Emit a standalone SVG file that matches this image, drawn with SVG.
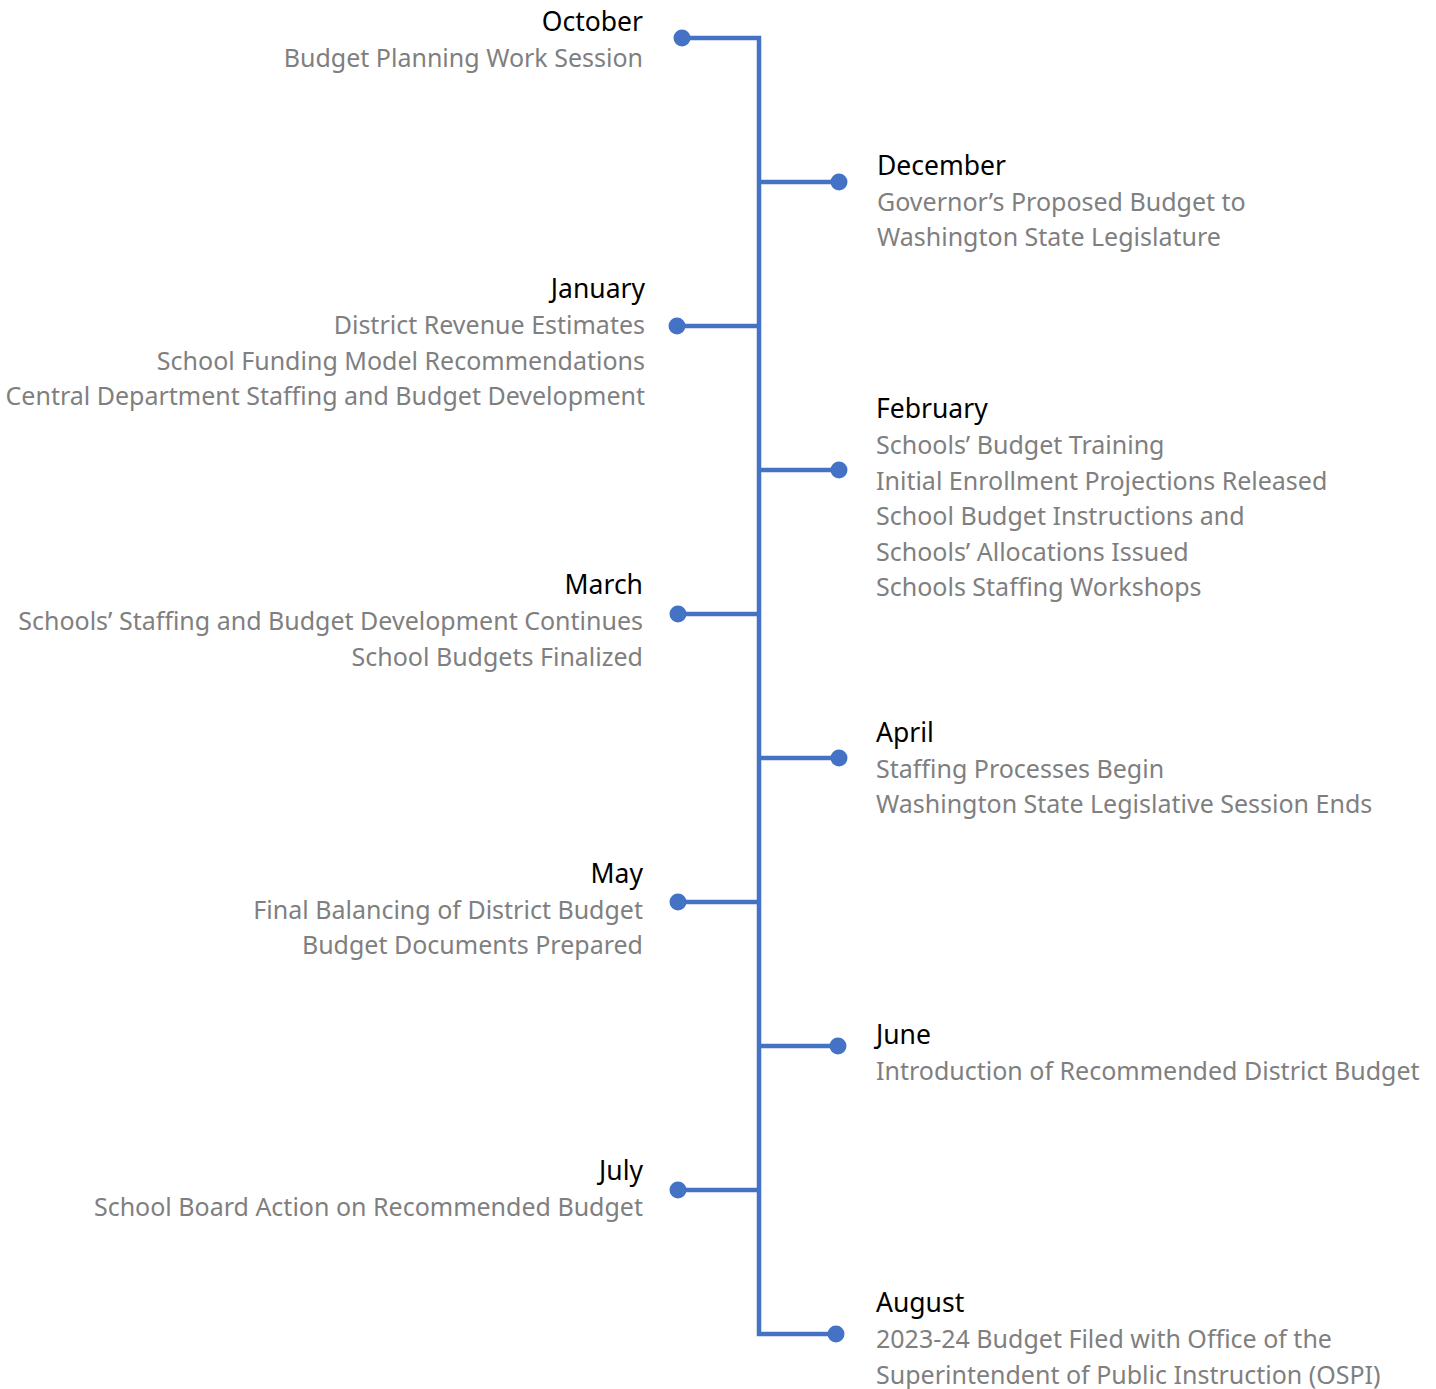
<svg xmlns="http://www.w3.org/2000/svg" width="1436" height="1389" viewBox="0 0 1436 1389">
<style>
.ln{stroke:#4472C4;stroke-width:4.5;fill:none}
.dot{fill:#4472C4}
.t{font-family:"Noto Sans","Open Sans",sans-serif;font-size:26.5px;fill:#000}
.d{font-family:"Noto Sans","Open Sans",sans-serif;font-size:25px;fill:#7F7F7F}
.l{text-anchor:end}
</style>
<rect width="1436" height="1389" fill="#fff"/>
<g id="connectors">
<polyline class="ln" points="682,38 759,38 759,1334 836,1334"/>
<line class="ln" x1="759" y1="182" x2="839" y2="182"/>
<line class="ln" x1="677" y1="326" x2="759" y2="326"/>
<line class="ln" x1="759" y1="470" x2="839" y2="470"/>
<line class="ln" x1="678" y1="614" x2="759" y2="614"/>
<line class="ln" x1="759" y1="758" x2="839" y2="758"/>
<line class="ln" x1="678" y1="902" x2="759" y2="902"/>
<line class="ln" x1="759" y1="1046" x2="838" y2="1046"/>
<line class="ln" x1="678" y1="1190" x2="759" y2="1190"/>
</g>
<g id="october">
<circle class="dot" cx="682" cy="38" r="8.5"/>
<text class="t l" x="643" y="31">October</text>
<text class="d l" x="643" y="67">Budget Planning Work Session</text>
</g>
<g id="december">
<circle class="dot" cx="839" cy="182" r="8.5"/>
<text class="t" x="877" y="175">December</text>
<text class="d" x="877" y="211">Governor’s Proposed Budget to</text>
<text class="d" x="877" y="246">Washington State Legislature</text>
</g>
<g id="january">
<circle class="dot" cx="677" cy="326" r="8.5"/>
<text class="t l" x="645" y="298">January</text>
<text class="d l" x="645" y="334">District Revenue Estimates</text>
<text class="d l" x="645" y="370">School Funding Model Recommendations</text>
<text class="d l" x="645" y="405">Central Department Staffing and Budget Development</text>
</g>
<g id="february">
<circle class="dot" cx="839" cy="470" r="8.5"/>
<text class="t" x="876" y="418">February</text>
<text class="d" x="876" y="454">Schools’ Budget Training</text>
<text class="d" x="876" y="490">Initial Enrollment Projections Released</text>
<text class="d" x="876" y="525">School Budget Instructions and</text>
<text class="d" x="876" y="561">Schools’ Allocations Issued</text>
<text class="d" x="876" y="596">Schools Staffing Workshops</text>
</g>
<g id="march">
<circle class="dot" cx="678" cy="614" r="8.5"/>
<text class="t l" x="643" y="594">March</text>
<text class="d l" x="643" y="630">Schools’ Staffing and Budget Development Continues</text>
<text class="d l" x="643" y="666">School Budgets Finalized</text>
</g>
<g id="april">
<circle class="dot" cx="839" cy="758" r="8.5"/>
<text class="t" x="876" y="742">April</text>
<text class="d" x="876" y="778">Staffing Processes Begin</text>
<text class="d" x="876" y="813">Washington State Legislative Session Ends</text>
</g>
<g id="may">
<circle class="dot" cx="678" cy="902" r="8.5"/>
<text class="t l" x="643" y="883">May</text>
<text class="d l" x="643" y="919">Final Balancing of District Budget</text>
<text class="d l" x="643" y="954">Budget Documents Prepared</text>
</g>
<g id="june">
<circle class="dot" cx="838" cy="1046" r="8.5"/>
<text class="t" x="876" y="1044">June</text>
<text class="d" x="876" y="1080">Introduction of Recommended District Budget</text>
</g>
<g id="july">
<circle class="dot" cx="678" cy="1190" r="8.5"/>
<text class="t l" x="643" y="1180">July</text>
<text class="d l" x="643" y="1216">School Board Action on Recommended Budget</text>
</g>
<g id="august">
<circle class="dot" cx="836" cy="1334" r="8.5"/>
<text class="t" x="876" y="1312">August</text>
<text class="d" x="876" y="1348">2023-24 Budget Filed with Office of the</text>
<text class="d" x="876" y="1384">Superintendent of Public Instruction (OSPI)</text>
</g>
</svg>
